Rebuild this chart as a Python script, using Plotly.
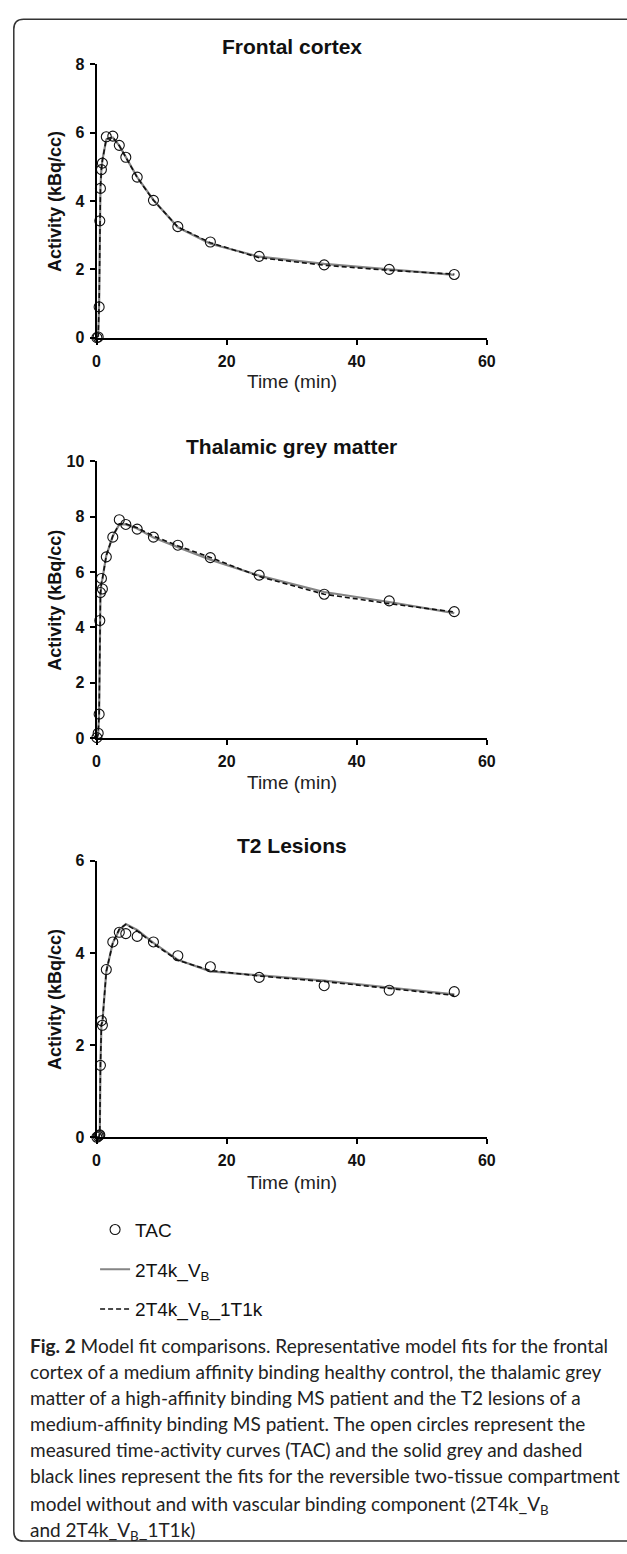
import plotly.graph_objects as go

# ---------------- data ----------------
time_min = [0.05, 0.25, 0.4, 0.5, 0.6, 0.75, 0.9, 1.5, 2.5, 3.5, 4.5, 6.25, 8.75,
            12.5, 17.5, 25, 35, 45, 55]

# Frontal cortex
tac_fc = [0.0, 0.02, 0.9, 3.42, 4.37, 4.92, 5.11, 5.88, 5.90, 5.63, 5.28, 4.70, 4.02,
          3.25, 2.80, 2.38, 2.13, 2.00, 1.85]
fit_fc_vb = [0.0, 0.05, 1.0, 3.3, 4.4, 4.95, 5.2, 5.80, 5.86, 5.62, 5.30, 4.70, 4.03,
             3.23, 2.75, 2.37, 2.16, 1.99, 1.84]
fit_fc_vb1t = [0.0, 0.05, 0.95, 3.35, 4.38, 4.93, 5.18, 5.82, 5.87, 5.62, 5.29, 4.69, 4.02,
               3.24, 2.78, 2.34, 2.12, 1.97, 1.86]

# Thalamic grey matter
tac_th = [0.02, 0.18, 0.87, 4.25, 5.26, 5.77, 5.39, 6.55, 7.26, 7.89, 7.72, 7.55, 7.26,
          6.97, 6.52, 5.89, 5.20, 4.96, 4.57]
fit_th_vb = [0.0, 0.15, 0.9, 4.2, 5.2, 5.6, 5.75, 6.6, 7.3, 7.72, 7.72, 7.57, 7.25,
             6.90, 6.45, 5.87, 5.28, 4.92, 4.52]
fit_th_vb1t = [0.0, 0.15, 0.9, 4.2, 5.2, 5.6, 5.75, 6.6, 7.3, 7.74, 7.74, 7.60, 7.30,
               6.95, 6.53, 5.84, 5.20, 4.86, 4.56]

# T2 lesions
tac_t2 = [0.0, 0.02, 0.04, 0.05, 1.56, 2.53, 2.43, 3.64, 4.24, 4.45, 4.42, 4.36, 4.24,
          3.94, 3.70, 3.47, 3.29, 3.19, 3.16]
fit_t2_vb = [0.0, 0.0, 0.02, 0.1, 1.55, 2.45, 2.5, 3.6, 4.22, 4.50, 4.63, 4.50, 4.22,
             3.85, 3.60, 3.52, 3.40, 3.25, 3.10]
fit_t2_vb1t = [0.0, 0.0, 0.02, 0.1, 1.55, 2.45, 2.5, 3.6, 4.22, 4.52, 4.62, 4.48, 4.20,
               3.84, 3.62, 3.50, 3.38, 3.23, 3.08]

panel_titles = ["Frontal cortex", "Thalamic grey matter", "T2 Lesions"]
x_ticks = [0, 20, 40, 60]
y_ticks = [[0, 2, 4, 6, 8], [0, 2, 4, 6, 8, 10], [0, 2, 4, 6]]
y_max = [8, 10, 6]
legend_names = ["TAC", "2T4k_V<sub>B</sub>", "2T4k_V<sub>B</sub>_1T1k"]

caption_lines = [
    "<b>Fig. 2</b> Model fit comparisons. Representative model fits for the frontal",
    "cortex of a medium affinity binding healthy control, the thalamic grey",
    "matter of a high-affinity binding MS patient and the T2 lesions of a",
    "medium-affinity binding MS patient. The open circles represent the",
    "measured time-activity curves (TAC) and the solid grey and dashed",
    "black lines represent the fits for the reversible two-tissue compartment",
    "model without and with vascular binding component (2T4k_V<sub>B</sub>",
    "and 2T4k_V<sub>B</sub>_1T1k)",
]

# ---------------- layout geometry ----------------
W, H = 627, 1554
px_x = lambda p: p / W
px_y = lambda p: 1 - p / H

x_dom = [px_x(94.5), px_x(493)]
y_doms = [[px_y(333.3), px_y(57)], [px_y(738.3), px_y(458.3)], [px_y(1141.7), px_y(862.3)]]
title_y = [39, 443, 847]
xtitle_y = [378, 783, 1187]
caption_y0, caption_dy = 1352, 26.4

panels = [
    (tac_fc, fit_fc_vb, fit_fc_vb1t),
    (tac_th, fit_th_vb, fit_th_vb1t),
    (tac_t2, fit_t2_vb, fit_t2_vb1t),
]

FONT = "Liberation Sans, Arial, Helvetica, sans-serif"

fig = go.Figure()
for i, (tac, f1, f2) in enumerate(panels):
    xa = "x" if i == 0 else f"x{i+1}"
    ya = "y" if i == 0 else f"y{i+1}"
    show = i == 0
    fig.add_trace(go.Scatter(
        x=time_min, y=f1, mode="lines", name=legend_names[1],
        line=dict(color="#858585", width=2.2), xaxis=xa, yaxis=ya,
        showlegend=show, legendgroup="g2", legendrank=2, cliponaxis=False))
    fig.add_trace(go.Scatter(
        x=time_min, y=f2, mode="lines", name=legend_names[2],
        line=dict(color="#111111", width=1.6, dash="5px,3px"), xaxis=xa, yaxis=ya,
        showlegend=show, legendgroup="g3", legendrank=3, cliponaxis=False))
    fig.add_trace(go.Scatter(
        x=time_min, y=tac, mode="markers", name=legend_names[0],
        marker=dict(symbol="circle-open", size=10, color="#111111",
                    line=dict(width=1.1, color="#111111")),
        xaxis=xa, yaxis=ya, showlegend=show, legendgroup="g1", legendrank=1,
        cliponaxis=False))

axis_common = dict(
    showline=True, linecolor="black", linewidth=2, mirror=False,
    ticks="outside", ticklen=5, tickwidth=2, tickcolor="black",
    showgrid=False, zeroline=False,
    tickfont=dict(family=FONT, size=16, color="#111111", weight=700),
)

layout = dict(
    width=W, height=H,
    paper_bgcolor="white", plot_bgcolor="white",
    margin=dict(l=0, r=0, t=0, b=0),
    font=dict(family=FONT, color="#111111"),
    showlegend=True,
    legend=dict(
        x=px_x(93), xanchor="left", y=px_y(1216), yanchor="top",
        font=dict(family=FONT, size=19, color="#111111"),
        tracegroupgap=12, traceorder="grouped", bgcolor="rgba(0,0,0,0)",
        itemwidth=30,
    ),
)
for i in range(3):
    sx = "" if i == 0 else str(i + 1)
    layout[f"xaxis{sx}"] = dict(
        domain=x_dom, range=[0, 60], tickvals=x_ticks, anchor=f"y{sx}",
        ticklabelstandoff=3, **axis_common)
    layout[f"yaxis{sx}"] = dict(
        domain=y_doms[i], range=[0, y_max[i]], tickvals=y_ticks[i], anchor=f"x{sx}",
        ticklabelstandoff=2, **axis_common)
fig.update_layout(**layout)

annotations = []
for i in range(3):
    annotations.append(dict(
        text=f"<b>{panel_titles[i]}</b>", x=px_x(294), y=px_y(title_y[i]),
        xref="paper", yref="paper", xanchor="center", yanchor="middle", showarrow=False,
        font=dict(family=FONT, size=21, color="#111111")))
    annotations.append(dict(
        text="Time (min)", x=px_x(294), y=px_y(xtitle_y[i]),
        xref="paper", yref="paper", xanchor="center", yanchor="middle", showarrow=False,
        font=dict(family=FONT, size=19, color="#222222")))
    ymid = (y_doms[i][0] + y_doms[i][1]) / 2
    annotations.append(dict(
        text="<b>Activity (kBq/cc)</b>", x=px_x(52), y=ymid, textangle=-90,
        xref="paper", yref="paper", xanchor="center", yanchor="middle", showarrow=False,
        font=dict(family=FONT, size=18, color="#111111")))

for k, line in enumerate(caption_lines):
    extra = 3 if "<sub>" in line else 0
    annotations.append(dict(
        text=line, x=px_x(24), y=px_y(caption_y0 + k * caption_dy + extra), align="left",
        xref="paper", yref="paper", xanchor="left", yanchor="middle", showarrow=False,
        font=dict(family="Lato, Open Sans, sans-serif", size=19, color="#222222")))
fig.update_layout(annotations=annotations)

# rounded frame (open to the right, as in the reference)
r_x, r_y = 10 / W, 10 / H
L, T, B, R = px_x(10), px_y(11.5), px_y(1550), 1.05
frame = (f"M {R},{T} L {L + r_x},{T} Q {L},{T} {L},{T - r_y} "
         f"L {L},{B + r_y} Q {L},{B} {L + r_x},{B} L {R},{B}")
fig.add_shape(type="path", path=frame, xref="paper", yref="paper",
              line=dict(color="#333333", width=1.5))

fig.write_html("out.html",
               config={"displayModeBar": False},
               post_script="document.body.style.margin='0';"
                           "document.body.style.overflow='hidden';")
